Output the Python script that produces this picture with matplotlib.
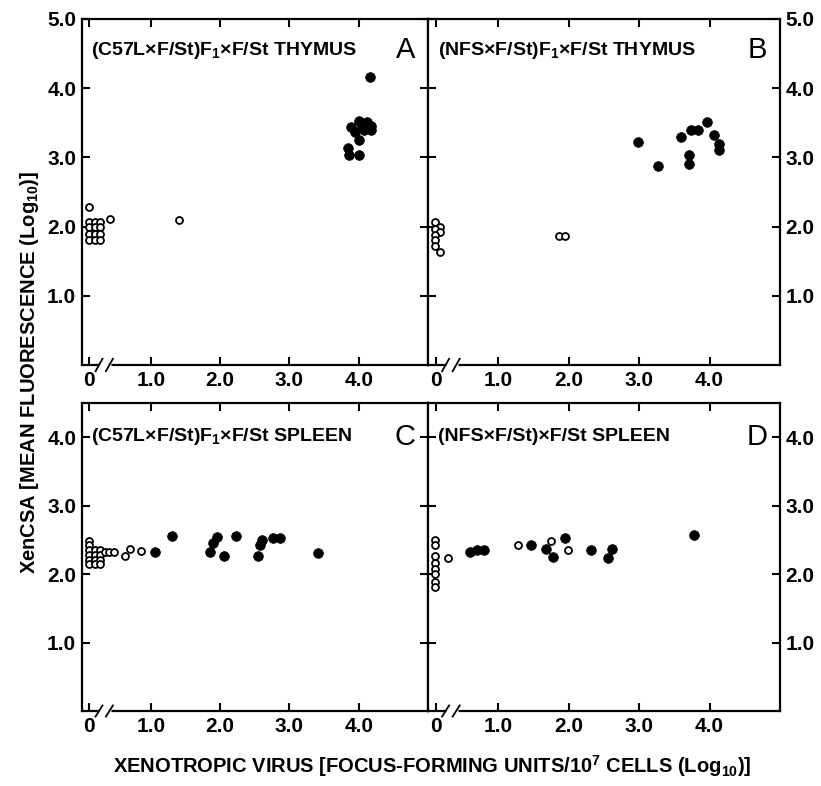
import matplotlib
matplotlib.use("Agg")
import matplotlib.pyplot as plt
import numpy as np

plt.rcParams['font.family'] = ['Liberation Sans', 'DejaVu Sans']
plt.rcParams['font.weight'] = 'bold'
plt.rcParams['mathtext.fontset'] = 'custom'
plt.rcParams['mathtext.rm'] = 'Liberation Sans:bold'
plt.rcParams['mathtext.it'] = 'Liberation Sans:bold'
plt.rcParams['mathtext.bf'] = 'Liberation Sans:bold'

# ---------------- data ----------------
# Panel A: (C57LxF/St)F1xF/St thymus
a_open_x = [0.11, 0.41, 1.40,
            0.11, 0.19, 0.27, 0.11, 0.19, 0.27, 0.11, 0.19, 0.27, 0.11, 0.19, 0.27]
a_open_y = [2.28, 2.11, 2.10,
            2.07, 2.07, 2.07, 1.99, 1.99, 1.99, 1.90, 1.90, 1.90, 1.81, 1.81, 1.81]
a_fill_x = [4.16, 3.89, 4.00, 4.05, 4.09, 4.17, 4.17, 3.95, 4.07, 4.00, 3.85, 3.86, 4.00, 4.12]
a_fill_y = [4.16, 3.44, 3.53, 3.46, 3.44, 3.46, 3.39, 3.37, 3.39, 3.25, 3.14, 3.03, 3.03, 3.51]

# Panel B: (NFSxF/St)F1xF/St thymus
b_open_x = [0.10, 0.17, 0.10, 0.17, 0.10, 0.10, 0.10, 0.17, 1.86, 1.94]
b_open_y = [2.06, 2.00, 1.97, 1.92, 1.88, 1.81, 1.72, 1.64, 1.86, 1.86]
b_fill_x = [2.99, 3.27, 3.60, 3.74, 3.84, 3.71, 3.71, 3.96, 4.06, 4.14, 4.14]
b_fill_y = [3.22, 2.88, 3.29, 3.39, 3.39, 3.03, 2.91, 3.51, 3.32, 3.20, 3.10]

# Panel C: (C57LxF/St)F1xF/St spleen
c_open_x = [0.11, 0.11, 0.11, 0.11, 0.11, 0.11,
            0.19, 0.19, 0.19, 0.19, 0.27, 0.27, 0.27, 0.27,
            0.33, 0.40, 0.47, 0.62, 0.70, 0.86]
c_open_y = [2.49, 2.42, 2.35, 2.28, 2.21, 2.15,
            2.35, 2.28, 2.21, 2.15, 2.35, 2.28, 2.21, 2.15,
            2.33, 2.33, 2.32, 2.26, 2.37, 2.34]
c_fill_x = [1.06, 1.30, 1.85, 1.90, 1.96, 2.06, 2.23, 2.54, 2.57, 2.61, 2.76, 2.86, 3.41]
c_fill_y = [2.33, 2.55, 2.33, 2.45, 2.54, 2.26, 2.55, 2.26, 2.42, 2.50, 2.53, 2.53, 2.31]

# Panel D: (NFSxF/St)xF/St spleen
d_open_x = [0.10, 0.10, 0.10, 0.10, 0.10, 0.10, 0.10, 0.10, 0.29, 1.28, 1.75, 1.99]
d_open_y = [2.50, 2.43, 2.26, 2.16, 2.08, 2.00, 1.88, 1.81, 2.24, 2.43, 2.49, 2.35]
d_fill_x = [0.59, 0.70, 0.79, 1.46, 1.68, 1.78, 1.95, 2.32, 2.55, 2.62, 3.78]
d_fill_y = [2.32, 2.35, 2.35, 2.43, 2.36, 2.25, 2.53, 2.35, 2.24, 2.36, 2.57]

x_ticks = [0.11, 1.0, 2.0, 3.0, 4.0]
x_ticklabels = ['0', '1.0', '2.0', '3.0', '4.0']
y_ticks_top = [1.0, 2.0, 3.0, 4.0, 5.0]
y_ticks_bot = [1.0, 2.0, 3.0, 4.0]

titles = ["(C57L×F/St)F$_1$×F/St THYMUS", "(NFS×F/St)F$_1$×F/St THYMUS",
          "(C57L×F/St)F$_1$×F/St SPLEEN", "(NFS×F/St)×F/St SPLEEN"]
letters = ["A", "B", "C", "D"]
xlabel = "XENOTROPIC VIRUS [FOCUS-FORMING UNITS/10$^7$ CELLS (Log$_{10}$)]"
ylabel = "XenCSA [MEAN FLUORESCENCE (Log$_{10}$)]"

# ---------------- figure ----------------
W, H = 821, 786
fig = plt.figure(figsize=(W / 100, H / 100), dpi=100)

def frac(l, t, r, b):
    return [l / W, 1 - b / H, (r - l) / W, (b - t) / H]

axA = fig.add_axes(frac(81.7, 19, 428, 365))
axB = fig.add_axes(frac(428, 19, 780, 365))
axC = fig.add_axes(frac(81.7, 403, 428, 711))
axD = fig.add_axes(frac(428, 403, 780, 711))

panels = [
    (axA, a_open_x, a_open_y, a_fill_x, a_fill_y, 5.0, y_ticks_top, 'left'),
    (axB, b_open_x, b_open_y, b_fill_x, b_fill_y, 5.0, y_ticks_top, 'right'),
    (axC, c_open_x, c_open_y, c_fill_x, c_fill_y, 4.5, y_ticks_bot, 'left'),
    (axD, d_open_x, d_open_y, d_fill_x, d_fill_y, 4.5, y_ticks_bot, 'right'),
]

for i, (ax, ox, oy, fx, fy, ytop, yt, side) in enumerate(panels):
    ax.plot(ox, oy, 'o', ms=5, mfc='white', mec='black', mew=1.3, ls='none', zorder=3)
    ax.plot(fx, fy, 'o', ms=7, mfc='black', mec='black', mew=0.5, ls='none', zorder=3)
    ax.set_xlim(0, 5.0)
    ax.set_ylim(0, ytop)
    ax.set_xticks(x_ticks)
    ax.set_xticklabels(x_ticklabels)
    ax.set_yticks(yt)
    ax.set_yticklabels([f"{v:.1f}" for v in yt])
    for s in ax.spines.values():
        s.set_linewidth(1.6)
    ax.tick_params(axis='both', direction='in', length=6, width=1.5,
                   top=True, bottom=True, left=True, right=True,
                   labelsize=15, pad=4)
    if side == 'left':
        ax.tick_params(axis='y', labelleft=True, labelright=False)
    else:
        ax.tick_params(axis='y', labelleft=False, labelright=True)
    # axis break "//" on bottom spine
    tr = ax.get_xaxis_transform()
    ax.plot([0.25, 0.42], [0.0, 0.0], color='white', lw=3.5, transform=tr,
            clip_on=False, zorder=5, solid_capstyle='butt')
    for xb in (0.25, 0.40):
        ax.plot([xb - 0.05, xb + 0.05], [-0.018, 0.018], color='black', lw=1.3,
                transform=tr, clip_on=False, zorder=6)
    ty = 0.91 if ytop == 5.0 else 0.89
    ax.text(0.027, ty, titles[i], transform=ax.transAxes,
            fontsize=14, ha='left', va='center')
    ax.text(0.935, ty, letters[i], transform=ax.transAxes,
            fontsize=21, fontweight='normal', ha='center', va='center')

fig.text(0.036, 1 - 372 / H, ylabel, rotation=90, fontsize=14.5, ha='center', va='center')
fig.text(432 / W, 1 - 766 / H, xlabel, fontsize=14.5, ha='center', va='center')

fig.savefig("out.png", dpi=100)
